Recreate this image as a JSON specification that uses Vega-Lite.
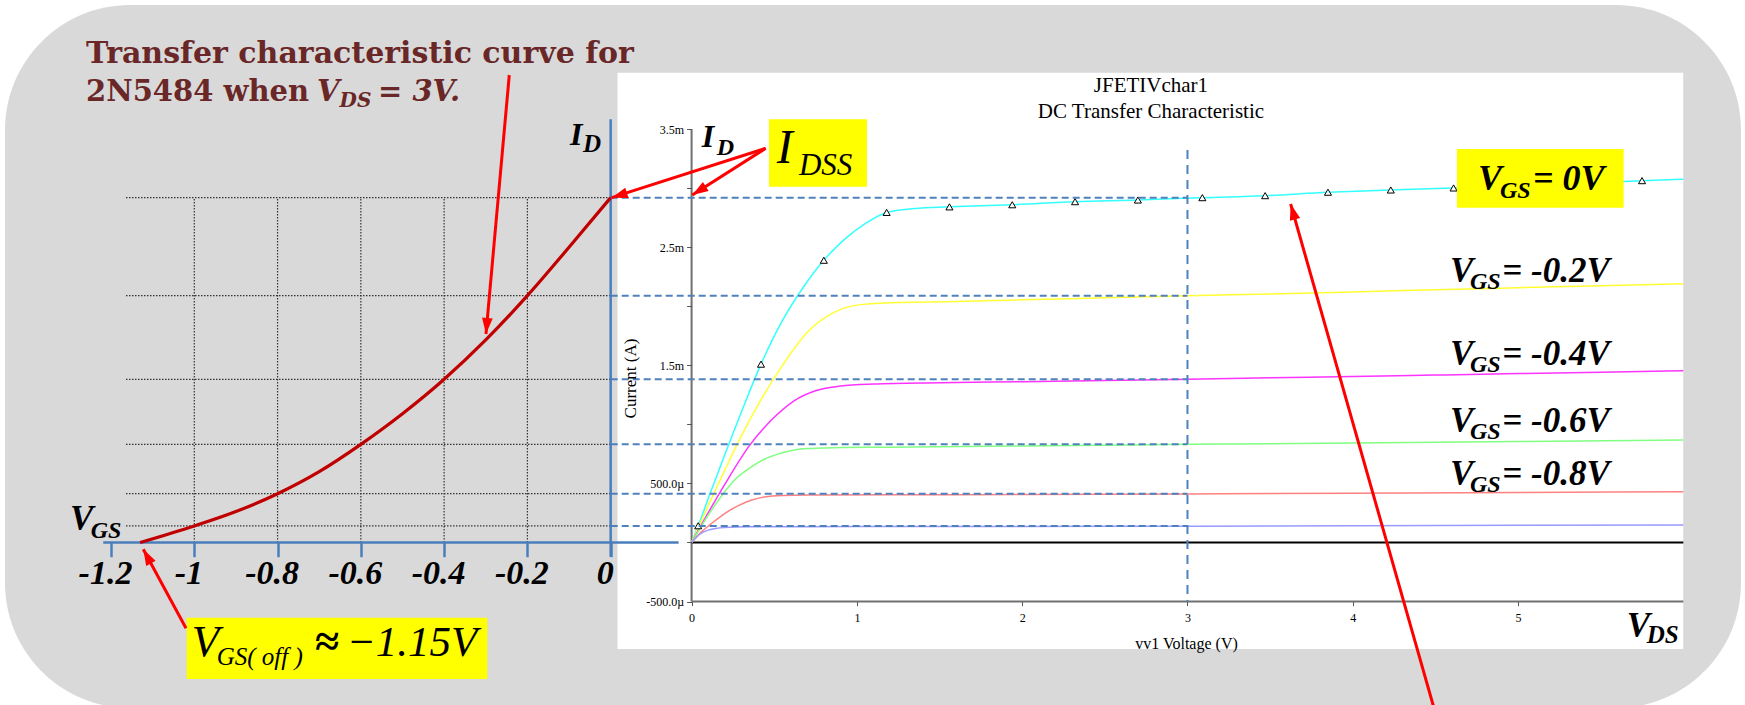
{
"$schema": "https://vega.github.io/schema/vega-lite/v6.json",
"width": 1745, "height": 705, "autosize": {"type": "none"}, "padding": 0,
"background": "#ffffff",
"config": {"view": {"stroke": null}, "font": "Liberation Serif, Times New Roman, Times, serif", "text": {"font": "Liberation Serif, Times New Roman, Times, serif", "fontStyle": "italic", "fontWeight": "bold", "align": "left", "baseline": "alphabetic", "color": "#000000"}},
"datasets": {
"one": [{"k": 1}],
"levels": [{"vgs": 0, "id": 2.92}, {"vgs": -0.2, "id": 2.09}, {"vgs": -0.4, "id": 1.382}, {"vgs": -0.6, "id": 0.831}, {"vgs": -0.8, "id": 0.413}, {"vgs": -1.0, "id": 0.14}],
"transfer": [{"vgs": -1.13, "id": 0}, {"vgs": -1.0, "id": 0.14}, {"vgs": -0.9, "id": 0.262}, {"vgs": -0.8, "id": 0.413}, {"vgs": -0.7, "id": 0.6}, {"vgs": -0.6, "id": 0.831}, {"vgs": -0.5, "id": 1.09}, {"vgs": -0.4, "id": 1.382}, {"vgs": -0.3, "id": 1.715}, {"vgs": -0.2, "id": 2.09}, {"vgs": -0.1, "id": 2.5}, {"vgs": 0, "id": 2.92}],
"markers": [{"vds": 0.04, "id": 0.142}, {"vds": 0.42, "id": 1.51}, {"vds": 0.8, "id": 2.39}, {"vds": 1.18, "id": 2.795}, {"vds": 1.56, "id": 2.842}, {"vds": 1.94, "id": 2.86}, {"vds": 2.32, "id": 2.886}, {"vds": 2.7, "id": 2.9}, {"vds": 3.09, "id": 2.92}, {"vds": 3.47, "id": 2.937}, {"vds": 3.85, "id": 2.966}, {"vds": 4.23, "id": 2.985}, {"vds": 4.61, "id": 3.002}, {"vds": 4.99, "id": 3.022}, {"vds": 5.37, "id": 3.042}, {"vds": 5.75, "id": 3.064}],
"curves": [
{"vgs": 0, "vds": 0, "id": 0}, {"vgs": 0, "vds": 0.04, "id": 0.142}, {"vgs": 0, "vds": 0.1, "id": 0.37}, {"vgs": 0, "vds": 0.2, "id": 0.74}, {"vgs": 0, "vds": 0.3, "id": 1.1}, {"vgs": 0, "vds": 0.42, "id": 1.51}, {"vgs": 0, "vds": 0.55, "id": 1.88}, {"vgs": 0, "vds": 0.68, "id": 2.17}, {"vgs": 0, "vds": 0.8, "id": 2.39}, {"vgs": 0, "vds": 0.92, "id": 2.56}, {"vgs": 0, "vds": 1.05, "id": 2.7}, {"vgs": 0, "vds": 1.18, "id": 2.795}, {"vgs": 0, "vds": 1.35, "id": 2.828}, {"vgs": 0, "vds": 1.56, "id": 2.842}, {"vgs": 0, "vds": 1.94, "id": 2.86}, {"vgs": 0, "vds": 2.32, "id": 2.886}, {"vgs": 0, "vds": 2.7, "id": 2.9}, {"vgs": 0, "vds": 3.09, "id": 2.92}, {"vgs": 0, "vds": 3.47, "id": 2.937}, {"vgs": 0, "vds": 3.85, "id": 2.966}, {"vgs": 0, "vds": 4.23, "id": 2.985}, {"vgs": 0, "vds": 4.61, "id": 3.002}, {"vgs": 0, "vds": 4.99, "id": 3.022}, {"vgs": 0, "vds": 5.37, "id": 3.042}, {"vgs": 0, "vds": 5.75, "id": 3.064}, {"vgs": 0, "vds": 6.0, "id": 3.075},
{"vgs": -0.2, "vds": 0, "id": 0}, {"vgs": -0.2, "vds": 0.1, "id": 0.31}, {"vgs": -0.2, "vds": 0.2, "id": 0.61}, {"vgs": -0.2, "vds": 0.3, "id": 0.9}, {"vgs": -0.2, "vds": 0.42, "id": 1.21}, {"vgs": -0.2, "vds": 0.55, "id": 1.5}, {"vgs": -0.2, "vds": 0.7, "id": 1.78}, {"vgs": -0.2, "vds": 0.85, "id": 1.94}, {"vgs": -0.2, "vds": 1.0, "id": 2.01}, {"vgs": -0.2, "vds": 1.2, "id": 2.03}, {"vgs": -0.2, "vds": 1.6, "id": 2.04}, {"vgs": -0.2, "vds": 2.0, "id": 2.055}, {"vgs": -0.2, "vds": 2.5, "id": 2.072}, {"vgs": -0.2, "vds": 3.0, "id": 2.09}, {"vgs": -0.2, "vds": 3.5, "id": 2.105}, {"vgs": -0.2, "vds": 4.0, "id": 2.122}, {"vgs": -0.2, "vds": 4.5, "id": 2.14}, {"vgs": -0.2, "vds": 5.0, "id": 2.157}, {"vgs": -0.2, "vds": 5.5, "id": 2.175}, {"vgs": -0.2, "vds": 6.0, "id": 2.191},
{"vgs": -0.4, "vds": 0, "id": 0}, {"vgs": -0.4, "vds": 0.1, "id": 0.25}, {"vgs": -0.4, "vds": 0.2, "id": 0.49}, {"vgs": -0.4, "vds": 0.35, "id": 0.82}, {"vgs": -0.4, "vds": 0.5, "id": 1.06}, {"vgs": -0.4, "vds": 0.62, "id": 1.2}, {"vgs": -0.4, "vds": 0.75, "id": 1.285}, {"vgs": -0.4, "vds": 0.9, "id": 1.325}, {"vgs": -0.4, "vds": 1.1, "id": 1.342}, {"vgs": -0.4, "vds": 1.5, "id": 1.353}, {"vgs": -0.4, "vds": 2.0, "id": 1.362}, {"vgs": -0.4, "vds": 2.5, "id": 1.372}, {"vgs": -0.4, "vds": 3.0, "id": 1.382}, {"vgs": -0.4, "vds": 3.5, "id": 1.394}, {"vgs": -0.4, "vds": 4.0, "id": 1.406}, {"vgs": -0.4, "vds": 4.5, "id": 1.418}, {"vgs": -0.4, "vds": 5.0, "id": 1.43}, {"vgs": -0.4, "vds": 5.5, "id": 1.442}, {"vgs": -0.4, "vds": 6.0, "id": 1.455},
{"vgs": -0.6, "vds": 0, "id": 0}, {"vgs": -0.6, "vds": 0.1, "id": 0.23}, {"vgs": -0.6, "vds": 0.2, "id": 0.43}, {"vgs": -0.6, "vds": 0.26, "id": 0.53}, {"vgs": -0.6, "vds": 0.35, "id": 0.63}, {"vgs": -0.6, "vds": 0.44, "id": 0.705}, {"vgs": -0.6, "vds": 0.55, "id": 0.76}, {"vgs": -0.6, "vds": 0.65, "id": 0.79}, {"vgs": -0.6, "vds": 0.8, "id": 0.801}, {"vgs": -0.6, "vds": 1.2, "id": 0.807}, {"vgs": -0.6, "vds": 2.0, "id": 0.818}, {"vgs": -0.6, "vds": 3.0, "id": 0.831}, {"vgs": -0.6, "vds": 4.0, "id": 0.843}, {"vgs": -0.6, "vds": 5.0, "id": 0.855}, {"vgs": -0.6, "vds": 6.0, "id": 0.868},
{"vgs": -0.8, "vds": 0, "id": 0}, {"vgs": -0.8, "vds": 0.06, "id": 0.09}, {"vgs": -0.8, "vds": 0.12, "id": 0.16}, {"vgs": -0.8, "vds": 0.2, "id": 0.245}, {"vgs": -0.8, "vds": 0.28, "id": 0.31}, {"vgs": -0.8, "vds": 0.36, "id": 0.357}, {"vgs": -0.8, "vds": 0.44, "id": 0.385}, {"vgs": -0.8, "vds": 0.55, "id": 0.398}, {"vgs": -0.8, "vds": 0.7, "id": 0.402}, {"vgs": -0.8, "vds": 1.5, "id": 0.405}, {"vgs": -0.8, "vds": 2.0, "id": 0.407}, {"vgs": -0.8, "vds": 3.0, "id": 0.411}, {"vgs": -0.8, "vds": 4.0, "id": 0.417}, {"vgs": -0.8, "vds": 5.0, "id": 0.423}, {"vgs": -0.8, "vds": 6.0, "id": 0.43},
{"vgs": -1.0, "vds": 0, "id": 0}, {"vgs": -1.0, "vds": 0.05, "id": 0.07}, {"vgs": -1.0, "vds": 0.1, "id": 0.105}, {"vgs": -1.0, "vds": 0.2, "id": 0.127}, {"vgs": -1.0, "vds": 0.35, "id": 0.133}, {"vgs": -1.0, "vds": 1.0, "id": 0.135}, {"vgs": -1.0, "vds": 2.0, "id": 0.136}, {"vgs": -1.0, "vds": 3.0, "id": 0.138}, {"vgs": -1.0, "vds": 4.0, "id": 0.141}, {"vgs": -1.0, "vds": 5.0, "id": 0.145}, {"vgs": -1.0, "vds": 6.0, "id": 0.148}
]
},
"resolve": {"scale": {"x": "independent", "y": "independent"}, "axis": {"x": "independent", "y": "independent"}},
"layer": [
{"data": {"name": "one"}, "mark": {"type": "rect", "fill": "#d9d9d9", "cornerRadius": 125},
 "encoding": {"x": {"datum": -4.1537, "type": "quantitative", "scale": {"domain": [-4.184, 6.373], "nice": false, "zero": false}, "axis": null}, "x2": {"datum": 6.3484},
  "y": {"datum": 4.5512, "type": "quantitative", "scale": {"domain": [-1.376, 4.5936], "nice": false, "zero": false}, "axis": null}, "y2": {"datum": -1.4014}}},
{"data": {"name": "one"}, "mark": {"type": "rect", "fill": "#ffffff"},
 "encoding": {"x": {"datum": -0.4483, "type": "quantitative", "scale": {"domain": [-4.184, 6.373], "nice": false, "zero": false}, "axis": null}, "x2": {"datum": 5.9994},
  "y": {"datum": 3.978, "type": "quantitative", "scale": {"domain": [-1.376, 4.5936], "nice": false, "zero": false}, "axis": null}, "y2": {"datum": -0.9018}}},
{"data": {"name": "levels"}, "mark": {"type": "rule", "color": "#333333", "strokeWidth": 1.2, "strokeDash": [1.5, 1.5]},
 "encoding": {"x": {"datum": -1.164, "type": "quantitative", "scale": {"domain": [-1.4666, 2.7242], "nice": false, "zero": false}, "axis": null}, "x2": {"datum": 0},
  "y": {"field": "id", "type": "quantitative", "scale": {"domain": [-1.376, 4.5936], "nice": false, "zero": false}, "axis": null}}},
{"data": {"name": "levels"}, "transform": [{"filter": "datum.vgs < 0"}], "mark": {"type": "rule", "color": "#333333", "strokeWidth": 1.2, "strokeDash": [1.5, 1.5]},
 "encoding": {"x": {"field": "vgs", "type": "quantitative", "scale": {"domain": [-1.4666, 2.7242], "nice": false, "zero": false}, "axis": null},
  "y": {"datum": 0, "type": "quantitative", "scale": {"domain": [-1.376, 4.5936], "nice": false, "zero": false}, "axis": null}, "y2": {"datum": 2.92}}},
{"data": {"name": "one"}, "mark": {"type": "rule", "color": "#707070", "strokeWidth": 2},
 "encoding": {"x": {"datum": 0, "type": "quantitative", "scale": {"domain": [-4.184, 6.373], "nice": false, "zero": false},
   "axis": {"orient": "bottom", "offset": -103.4, "zindex": 1, "values": [0, 1, 2, 3, 4, 5], "format": "d", "domain": false, "grid": false, "tickSize": 4, "tickColor": "#555555", "tickWidth": 1, "labelFont": "Liberation Serif, Times New Roman, Times, serif", "labelFontSize": 12, "labelColor": "#000000", "labelPadding": 7, "labelFlush": false, "labelOverlap": false,
     "title": "vv1 Voltage (V)", "titleFont": "Liberation Serif, Times New Roman, Times, serif", "titleFontSize": 16, "titleFontWeight": "normal", "titleColor": "#000000", "titleX": 1186, "titleY": 41.4, "titleBaseline": "middle", "titleAlign": "center"}},
  "x2": {"datum": 6},
  "y": {"datum": -0.5, "type": "quantitative", "scale": {"domain": [-1.376, 4.5936], "nice": false, "zero": false}, "axis": null}}},
{"data": {"name": "one"}, "mark": {"type": "rule", "color": "#707070", "strokeWidth": 2},
 "encoding": {"x": {"datum": 0, "type": "quantitative", "scale": {"domain": [-4.184, 6.373], "nice": false, "zero": false}, "axis": null},
  "y": {"datum": -0.5, "type": "quantitative", "scale": {"domain": [-1.376, 4.5936], "nice": false, "zero": false},
   "axis": {"orient": "left", "offset": -691.6, "zindex": 1, "values": [-0.5, 0, 0.5, 1, 1.5, 2, 2.5, 3, 3.5], "labelExpr": "datum.value == 3.5 ? '3.5m' : datum.value == 2.5 ? '2.5m' : datum.value == 1.5 ? '1.5m' : datum.value == 0.5 ? '500.0µ' : datum.value == -0.5 ? '-500.0µ' : ''", "domain": false, "grid": false, "tickSize": 5, "tickColor": "#555555", "tickWidth": 1, "labelFont": "Liberation Serif, Times New Roman, Times, serif", "labelFontSize": 12, "labelColor": "#000000", "labelPadding": 3, "labelFlush": false, "labelOverlap": false,
     "title": "Current (A)", "titleFont": "Liberation Serif, Times New Roman, Times, serif", "titleFontSize": 17, "titleFontWeight": "normal", "titleColor": "#000000", "titleX": -61.6, "titleY": 378, "titleAngle": -90, "titleBaseline": "middle", "titleAlign": "center"}},
  "y2": {"datum": 3.5}}},
{"data": {"name": "one"}, "mark": {"type": "rule", "color": "#000000", "strokeWidth": 2},
 "encoding": {"x": {"datum": 0, "type": "quantitative", "scale": {"domain": [-4.184, 6.373], "nice": false, "zero": false}, "axis": null}, "x2": {"datum": 6},
  "y": {"datum": 0, "type": "quantitative", "scale": {"domain": [-1.376, 4.5936], "nice": false, "zero": false}, "axis": null}}},
{"data": {"name": "curves"}, "mark": {"type": "line", "strokeWidth": 1.5, "interpolate": "monotone"},
 "encoding": {"x": {"field": "vds", "type": "quantitative", "scale": {"domain": [-4.184, 6.373], "nice": false, "zero": false}, "axis": null},
  "y": {"field": "id", "type": "quantitative", "scale": {"domain": [-1.376, 4.5936], "nice": false, "zero": false}, "axis": null},
  "color": {"field": "vgs", "type": "nominal", "scale": {"domain": [0, -0.2, -0.4, -0.6, -0.8, -1], "range": ["#33ffff", "#ffff33", "#ff33ff", "#80ff80", "#ff8080", "#9999ff"]}, "legend": null}}},
{"data": {"name": "markers"}, "mark": {"type": "point", "shape": "triangle-up", "filled": true, "fill": "#ffffff", "stroke": "#000000", "strokeWidth": 1, "size": 50, "opacity": 1},
 "encoding": {"x": {"field": "vds", "type": "quantitative", "scale": {"domain": [-4.184, 6.373], "nice": false, "zero": false}, "axis": null},
  "y": {"field": "id", "type": "quantitative", "scale": {"domain": [-1.376, 4.5936], "nice": false, "zero": false}, "axis": null}}},
{"data": {"name": "levels"}, "mark": {"type": "rule", "color": "#4f81bd", "strokeWidth": 2, "strokeDash": [7, 4]},
 "encoding": {"x": {"datum": -0.4894, "type": "quantitative", "scale": {"domain": [-4.184, 6.373], "nice": false, "zero": false}, "axis": null}, "x2": {"datum": 3},
  "y": {"field": "id", "type": "quantitative", "scale": {"domain": [-1.376, 4.5936], "nice": false, "zero": false}, "axis": null}}},
{"data": {"name": "one"}, "mark": {"type": "rule", "color": "#4f81bd", "strokeWidth": 2, "strokeDash": [9, 6]},
 "encoding": {"x": {"datum": 3, "type": "quantitative", "scale": {"domain": [-4.184, 6.373], "nice": false, "zero": false}, "axis": null},
  "y": {"datum": 3.3235, "type": "quantitative", "scale": {"domain": [-1.376, 4.5936], "nice": false, "zero": false}, "axis": null}, "y2": {"datum": -0.5}}},
{"data": {"name": "one"}, "mark": {"type": "rule", "color": "#4a7ebb", "strokeWidth": 2.5},
 "encoding": {"x": {"datum": -1.2186, "type": "quantitative", "scale": {"domain": [-1.4666, 2.7242], "nice": false, "zero": false},
   "axis": {"orient": "bottom", "offset": -163.3, "zindex": 1, "values": [-1.2, -1, -0.8, -0.6, -0.4, -0.2, 0], "format": "~g", "labelExpr": "replace(datum.label, '−', '-')", "domain": false, "grid": false, "tickSize": 15, "tickColor": "#4a7ebb", "tickWidth": 2.5, "labelFont": "Liberation Serif, Times New Roman, Times, serif", "labelFontSize": 34, "labelFontWeight": "bold", "labelFontStyle": "italic", "labelColor": "#000000", "labelBaseline": "alphabetic", "labelPadding": 26.6, "labelOffset": -6, "labelFlush": false, "labelOverlap": false, "title": null}},
  "x2": {"datum": 0.1631},
  "y": {"datum": 0, "type": "quantitative", "scale": {"domain": [-1.376, 4.5936], "nice": false, "zero": false}, "axis": null}}},
{"data": {"name": "one"}, "mark": {"type": "rule", "color": "#4a7ebb", "strokeWidth": 2.5},
 "encoding": {"x": {"datum": 0, "type": "quantitative", "scale": {"domain": [-1.4666, 2.7242], "nice": false, "zero": false}, "axis": null},
  "y": {"datum": -0.1202, "type": "quantitative", "scale": {"domain": [-1.376, 4.5936], "nice": false, "zero": false}, "axis": null}, "y2": {"datum": 3.5834}}},
{"data": {"name": "transfer"}, "mark": {"type": "line", "color": "#c00000", "strokeWidth": 3.2, "interpolate": "monotone"},
 "encoding": {"x": {"field": "vgs", "type": "quantitative", "scale": {"domain": [-1.4666, 2.7242], "nice": false, "zero": false}, "axis": null},
  "y": {"field": "id", "type": "quantitative", "scale": {"domain": [-1.376, 4.5936], "nice": false, "zero": false}, "axis": null}}},
{"data": {"name": "one"}, "mark": {"type": "rect", "fill": "#ffff00"},
 "encoding": {"x": {"datum": 0.4682, "type": "quantitative", "scale": {"domain": [-4.184, 6.373], "nice": false, "zero": false}, "axis": null}, "x2": {"datum": 1.0611},
  "y": {"datum": 3.5834, "type": "quantitative", "scale": {"domain": [-1.376, 4.5936], "nice": false, "zero": false}, "axis": null}, "y2": {"datum": 3.0127}}},
{"data": {"name": "one"}, "mark": {"type": "rect", "fill": "#ffff00"},
 "encoding": {"x": {"datum": 4.6304, "type": "quantitative", "scale": {"domain": [-4.184, 6.373], "nice": false, "zero": false}, "axis": null}, "x2": {"datum": 5.6389},
  "y": {"datum": 3.3319, "type": "quantitative", "scale": {"domain": [-1.376, 4.5936], "nice": false, "zero": false}, "axis": null}, "y2": {"datum": 2.8349}}},
{"data": {"name": "one"}, "mark": {"type": "rect", "fill": "#ffff00"},
 "encoding": {"x": {"datum": -1.0183, "type": "quantitative", "scale": {"domain": [-1.4666, 2.7242], "nice": false, "zero": false}, "axis": null}, "x2": {"datum": -0.2963},
  "y": {"datum": -0.6367, "type": "quantitative", "scale": {"domain": [-1.376, 4.5936], "nice": false, "zero": false}, "axis": null}, "y2": {"datum": -1.1558}}},
{"data": {"values": [{"t": "Transfer characteristic curve for"}]}, "mark": {"type": "text", "font": "DejaVu Serif", "fontStyle": "normal", "fontWeight": "bold", "fontSize": 30, "color": "#6a2727"},
 "encoding": {"text": {"field": "t"}, "x": {"datum": -1.2601, "type": "quantitative", "scale": {"domain": [-1.4666, 2.7242], "nice": false, "zero": false}, "axis": null}, "y": {"datum": 4.0627, "type": "quantitative", "scale": {"domain": [-1.376, 4.5936], "nice": false, "zero": false}, "axis": null}}},
{"data": {"values": [{"t": "2N5484 when"}]}, "mark": {"type": "text", "font": "DejaVu Serif", "fontStyle": "normal", "fontWeight": "bold", "fontSize": 29, "color": "#6a2727"},
 "encoding": {"text": {"field": "t"}, "x": {"datum": -1.2601, "type": "quantitative", "scale": {"domain": [-1.4666, 2.7242], "nice": false, "zero": false}, "axis": null}, "y": {"datum": 3.7409, "type": "quantitative", "scale": {"domain": [-1.376, 4.5936], "nice": false, "zero": false}, "axis": null}}},
{"data": {"values": [{"t": "V"}]}, "mark": {"type": "text", "font": "DejaVu Serif", "fontStyle": "italic", "fontWeight": "bold", "fontSize": 29, "color": "#6a2727"},
 "encoding": {"text": {"field": "t"}, "x": {"datum": -0.705, "type": "quantitative", "scale": {"domain": [-1.4666, 2.7242], "nice": false, "zero": false}, "axis": null}, "y": {"datum": 3.7409, "type": "quantitative", "scale": {"domain": [-1.376, 4.5936], "nice": false, "zero": false}, "axis": null}}},
{"data": {"values": [{"t": "DS"}]}, "mark": {"type": "text", "font": "DejaVu Serif", "fontStyle": "italic", "fontWeight": "bold", "fontSize": 20, "color": "#6a2727"},
 "encoding": {"text": {"field": "t"}, "x": {"datum": -0.651, "type": "quantitative", "scale": {"domain": [-1.4666, 2.7242], "nice": false, "zero": false}, "axis": null}, "y": {"datum": 3.685, "type": "quantitative", "scale": {"domain": [-1.376, 4.5936], "nice": false, "zero": false}, "axis": null}}},
{"data": {"values": [{"t": "= 3V."}]}, "mark": {"type": "text", "font": "DejaVu Serif", "fontStyle": "italic", "fontWeight": "bold", "fontSize": 29, "color": "#6a2727"},
 "encoding": {"text": {"field": "t"}, "x": {"datum": -0.5588, "type": "quantitative", "scale": {"domain": [-1.4666, 2.7242], "nice": false, "zero": false}, "axis": null}, "y": {"datum": 3.7409, "type": "quantitative", "scale": {"domain": [-1.376, 4.5936], "nice": false, "zero": false}, "axis": null}}},
{"data": {"values": [{"t": "I"}]}, "mark": {"type": "text", "font": "Liberation Serif, Times New Roman, Times, serif", "fontSize": 32},
 "encoding": {"text": {"field": "t"}, "x": {"datum": -0.0977, "type": "quantitative", "scale": {"domain": [-1.4666, 2.7242], "nice": false, "zero": false}, "axis": null}, "y": {"datum": 3.3658, "type": "quantitative", "scale": {"domain": [-1.376, 4.5936], "nice": false, "zero": false}, "axis": null}}},
{"data": {"values": [{"t": "D"}]}, "mark": {"type": "text", "font": "Liberation Serif, Times New Roman, Times, serif", "fontSize": 25},
 "encoding": {"text": {"field": "t"}, "x": {"datum": -0.0665, "type": "quantitative", "scale": {"domain": [-1.4666, 2.7242], "nice": false, "zero": false}, "axis": null}, "y": {"datum": 3.3091, "type": "quantitative", "scale": {"domain": [-1.376, 4.5936], "nice": false, "zero": false}, "axis": null}}},
{"data": {"values": [{"t": "V"}]}, "mark": {"type": "text", "font": "Liberation Serif, Times New Roman, Times, serif", "fontSize": 35},
 "encoding": {"text": {"field": "t"}, "x": {"datum": -1.2985, "type": "quantitative", "scale": {"domain": [-1.4666, 2.7242], "nice": false, "zero": false}, "axis": null}, "y": {"datum": 0.1058, "type": "quantitative", "scale": {"domain": [-1.376, 4.5936], "nice": false, "zero": false}, "axis": null}}},
{"data": {"values": [{"t": "GS"}]}, "mark": {"type": "text", "font": "Liberation Serif, Times New Roman, Times, serif", "fontSize": 24},
 "encoding": {"text": {"field": "t"}, "x": {"datum": -1.2488, "type": "quantitative", "scale": {"domain": [-1.4666, 2.7242], "nice": false, "zero": false}, "axis": null}, "y": {"datum": 0.0356, "type": "quantitative", "scale": {"domain": [-1.376, 4.5936], "nice": false, "zero": false}, "axis": null}}},
{"data": {"values": [{"t": "V"}]}, "mark": {"type": "text", "font": "Liberation Serif, Times New Roman, Times, serif", "fontSize": 45, "fontWeight": "normal"},
 "encoding": {"text": {"field": "t"}, "x": {"datum": -1.0062, "type": "quantitative", "scale": {"domain": [-1.4666, 2.7242], "nice": false, "zero": false}, "axis": null}, "y": {"datum": -0.965, "type": "quantitative", "scale": {"domain": [-1.376, 4.5936], "nice": false, "zero": false}, "axis": null}}},
{"data": {"values": [{"t": "GS( off )"}]}, "mark": {"type": "text", "font": "Liberation Serif, Times New Roman, Times, serif", "fontSize": 25, "fontWeight": "normal"},
 "encoding": {"text": {"field": "t"}, "x": {"datum": -0.9462, "type": "quantitative", "scale": {"domain": [-1.4666, 2.7242], "nice": false, "zero": false}, "axis": null}, "y": {"datum": -1.0373, "type": "quantitative", "scale": {"domain": [-1.376, 4.5936], "nice": false, "zero": false}, "axis": null}}},
{"data": {"values": [{"t": "≈"}]}, "mark": {"type": "text", "font": "Liberation Serif, Times New Roman, Times, serif", "fontSize": 44, "fontStyle": "normal"},
 "encoding": {"text": {"field": "t"}, "x": {"datum": -0.7101, "type": "quantitative", "scale": {"domain": [-1.4666, 2.7242], "nice": false, "zero": false}, "axis": null}, "y": {"datum": -0.965, "type": "quantitative", "scale": {"domain": [-1.376, 4.5936], "nice": false, "zero": false}, "axis": null}}},
{"data": {"values": [{"t": "−1.15V"}]}, "mark": {"type": "text", "font": "Liberation Serif, Times New Roman, Times, serif", "fontSize": 43, "fontWeight": "normal"},
 "encoding": {"text": {"field": "t"}, "x": {"datum": -0.634, "type": "quantitative", "scale": {"domain": [-1.4666, 2.7242], "nice": false, "zero": false}, "axis": null}, "y": {"datum": -0.965, "type": "quantitative", "scale": {"domain": [-1.376, 4.5936], "nice": false, "zero": false}, "axis": null}}},
{"data": {"values": [{"t": "JFETIVchar1"}]}, "mark": {"type": "text", "font": "Liberation Serif, Times New Roman, Times, serif", "fontSize": 21, "fontWeight": "normal", "fontStyle": "normal", "align": "center"},
 "encoding": {"text": {"field": "t"}, "x": {"datum": 2.7792, "type": "quantitative", "scale": {"domain": [-4.184, 6.373], "nice": false, "zero": false}, "axis": null}, "y": {"datum": 3.8146, "type": "quantitative", "scale": {"domain": [-1.376, 4.5936], "nice": false, "zero": false}, "axis": null}}},
{"data": {"values": [{"t": "DC Transfer Characteristic"}]}, "mark": {"type": "text", "font": "Liberation Serif, Times New Roman, Times, serif", "fontSize": 21, "fontWeight": "normal", "fontStyle": "normal", "align": "center"},
 "encoding": {"text": {"field": "t"}, "x": {"datum": 2.7792, "type": "quantitative", "scale": {"domain": [-4.184, 6.373], "nice": false, "zero": false}, "axis": null}, "y": {"datum": 3.5944, "type": "quantitative", "scale": {"domain": [-1.376, 4.5936], "nice": false, "zero": false}, "axis": null}}},
{"data": {"values": [{"t": "I"}]}, "mark": {"type": "text", "font": "Liberation Serif, Times New Roman, Times, serif", "fontSize": 32},
 "encoding": {"text": {"field": "t"}, "x": {"datum": 0.0611, "type": "quantitative", "scale": {"domain": [-4.184, 6.373], "nice": false, "zero": false}, "axis": null}, "y": {"datum": 3.3514, "type": "quantitative", "scale": {"domain": [-1.376, 4.5936], "nice": false, "zero": false}, "axis": null}}},
{"data": {"values": [{"t": "D"}]}, "mark": {"type": "text", "font": "Liberation Serif, Times New Roman, Times, serif", "fontSize": 24},
 "encoding": {"text": {"field": "t"}, "x": {"datum": 0.1518, "type": "quantitative", "scale": {"domain": [-4.184, 6.373], "nice": false, "zero": false}, "axis": null}, "y": {"datum": 3.2811, "type": "quantitative", "scale": {"domain": [-1.376, 4.5936], "nice": false, "zero": false}, "axis": null}}},
{"data": {"values": [{"t": "I"}]}, "mark": {"type": "text", "font": "Liberation Serif, Times New Roman, Times, serif", "fontSize": 48, "fontWeight": "normal"},
 "encoding": {"text": {"field": "t"}, "x": {"datum": 0.5148, "type": "quantitative", "scale": {"domain": [-4.184, 6.373], "nice": false, "zero": false}, "axis": null}, "y": {"datum": 3.2108, "type": "quantitative", "scale": {"domain": [-1.376, 4.5936], "nice": false, "zero": false}, "axis": null}}},
{"data": {"values": [{"t": "DSS"}]}, "mark": {"type": "text", "font": "Liberation Serif, Times New Roman, Times, serif", "fontSize": 31, "fontWeight": "normal"},
 "encoding": {"text": {"field": "t"}, "x": {"datum": 0.6497, "type": "quantitative", "scale": {"domain": [-4.184, 6.373], "nice": false, "zero": false}, "axis": null}, "y": {"datum": 3.1118, "type": "quantitative", "scale": {"domain": [-1.376, 4.5936], "nice": false, "zero": false}, "axis": null}}},
{"data": {"values": [{"t": "V"}]}, "mark": {"type": "text", "font": "Liberation Serif, Times New Roman, Times, serif", "fontSize": 36},
 "encoding": {"text": {"field": "t"}, "x": {"datum": 4.7574, "type": "quantitative", "scale": {"domain": [-4.184, 6.373], "nice": false, "zero": false}, "axis": null}, "y": {"datum": 2.9848, "type": "quantitative", "scale": {"domain": [-1.376, 4.5936], "nice": false, "zero": false}, "axis": null}}},
{"data": {"values": [{"t": "GS"}]}, "mark": {"type": "text", "font": "Liberation Serif, Times New Roman, Times, serif", "fontSize": 24},
 "encoding": {"text": {"field": "t"}, "x": {"datum": 4.8905, "type": "quantitative", "scale": {"domain": [-4.184, 6.373], "nice": false, "zero": false}, "axis": null}, "y": {"datum": 2.917, "type": "quantitative", "scale": {"domain": [-1.376, 4.5936], "nice": false, "zero": false}, "axis": null}}},
{"data": {"values": [{"t": "= 0V"}]}, "mark": {"type": "text", "font": "Liberation Serif, Times New Roman, Times, serif", "fontSize": 36},
 "encoding": {"text": {"field": "t"}, "x": {"datum": 5.0901, "type": "quantitative", "scale": {"domain": [-4.184, 6.373], "nice": false, "zero": false}, "axis": null}, "y": {"datum": 2.9848, "type": "quantitative", "scale": {"domain": [-1.376, 4.5936], "nice": false, "zero": false}, "axis": null}}},
{"data": {"values": [{"t": "V"}]}, "mark": {"type": "text", "font": "Liberation Serif, Times New Roman, Times, serif", "fontSize": 35},
 "encoding": {"text": {"field": "t"}, "x": {"datum": 4.588, "type": "quantitative", "scale": {"domain": [-4.184, 6.373], "nice": false, "zero": false}, "axis": null}, "y": {"datum": 2.2083, "type": "quantitative", "scale": {"domain": [-1.376, 4.5936], "nice": false, "zero": false}, "axis": null}}},
{"data": {"values": [{"t": "GS"}]}, "mark": {"type": "text", "font": "Liberation Serif, Times New Roman, Times, serif", "fontSize": 24},
 "encoding": {"text": {"field": "t"}, "x": {"datum": 4.709, "type": "quantitative", "scale": {"domain": [-4.184, 6.373], "nice": false, "zero": false}, "axis": null}, "y": {"datum": 2.1439, "type": "quantitative", "scale": {"domain": [-1.376, 4.5936], "nice": false, "zero": false}, "axis": null}}},
{"data": {"values": [{"t": "= -0.2V"}]}, "mark": {"type": "text", "font": "Liberation Serif, Times New Roman, Times, serif", "fontSize": 35},
 "encoding": {"text": {"field": "t"}, "x": {"datum": 4.905, "type": "quantitative", "scale": {"domain": [-4.184, 6.373], "nice": false, "zero": false}, "axis": null}, "y": {"datum": 2.2083, "type": "quantitative", "scale": {"domain": [-1.376, 4.5936], "nice": false, "zero": false}, "axis": null}}},
{"data": {"values": [{"t": "V"}]}, "mark": {"type": "text", "font": "Liberation Serif, Times New Roman, Times, serif", "fontSize": 35},
 "encoding": {"text": {"field": "t"}, "x": {"datum": 4.588, "type": "quantitative", "scale": {"domain": [-4.184, 6.373], "nice": false, "zero": false}, "axis": null}, "y": {"datum": 1.503, "type": "quantitative", "scale": {"domain": [-1.376, 4.5936], "nice": false, "zero": false}, "axis": null}}},
{"data": {"values": [{"t": "GS"}]}, "mark": {"type": "text", "font": "Liberation Serif, Times New Roman, Times, serif", "fontSize": 24},
 "encoding": {"text": {"field": "t"}, "x": {"datum": 4.709, "type": "quantitative", "scale": {"domain": [-4.184, 6.373], "nice": false, "zero": false}, "axis": null}, "y": {"datum": 1.4462, "type": "quantitative", "scale": {"domain": [-1.376, 4.5936], "nice": false, "zero": false}, "axis": null}}},
{"data": {"values": [{"t": "= -0.4V"}]}, "mark": {"type": "text", "font": "Liberation Serif, Times New Roman, Times, serif", "fontSize": 35},
 "encoding": {"text": {"field": "t"}, "x": {"datum": 4.905, "type": "quantitative", "scale": {"domain": [-4.184, 6.373], "nice": false, "zero": false}, "axis": null}, "y": {"datum": 1.503, "type": "quantitative", "scale": {"domain": [-1.376, 4.5936], "nice": false, "zero": false}, "axis": null}}},
{"data": {"values": [{"t": "V"}]}, "mark": {"type": "text", "font": "Liberation Serif, Times New Roman, Times, serif", "fontSize": 35},
 "encoding": {"text": {"field": "t"}, "x": {"datum": 4.588, "type": "quantitative", "scale": {"domain": [-4.184, 6.373], "nice": false, "zero": false}, "axis": null}, "y": {"datum": 0.9382, "type": "quantitative", "scale": {"domain": [-1.376, 4.5936], "nice": false, "zero": false}, "axis": null}}},
{"data": {"values": [{"t": "GS"}]}, "mark": {"type": "text", "font": "Liberation Serif, Times New Roman, Times, serif", "fontSize": 24},
 "encoding": {"text": {"field": "t"}, "x": {"datum": 4.709, "type": "quantitative", "scale": {"domain": [-4.184, 6.373], "nice": false, "zero": false}, "axis": null}, "y": {"datum": 0.8738, "type": "quantitative", "scale": {"domain": [-1.376, 4.5936], "nice": false, "zero": false}, "axis": null}}},
{"data": {"values": [{"t": "= -0.6V"}]}, "mark": {"type": "text", "font": "Liberation Serif, Times New Roman, Times, serif", "fontSize": 35},
 "encoding": {"text": {"field": "t"}, "x": {"datum": 4.905, "type": "quantitative", "scale": {"domain": [-4.184, 6.373], "nice": false, "zero": false}, "axis": null}, "y": {"datum": 0.9382, "type": "quantitative", "scale": {"domain": [-1.376, 4.5936], "nice": false, "zero": false}, "axis": null}}},
{"data": {"values": [{"t": "V"}]}, "mark": {"type": "text", "font": "Liberation Serif, Times New Roman, Times, serif", "fontSize": 35},
 "encoding": {"text": {"field": "t"}, "x": {"datum": 4.588, "type": "quantitative", "scale": {"domain": [-4.184, 6.373], "nice": false, "zero": false}, "axis": null}, "y": {"datum": 0.4869, "type": "quantitative", "scale": {"domain": [-1.376, 4.5936], "nice": false, "zero": false}, "axis": null}}},
{"data": {"values": [{"t": "GS"}]}, "mark": {"type": "text", "font": "Liberation Serif, Times New Roman, Times, serif", "fontSize": 24},
 "encoding": {"text": {"field": "t"}, "x": {"datum": 4.709, "type": "quantitative", "scale": {"domain": [-4.184, 6.373], "nice": false, "zero": false}, "axis": null}, "y": {"datum": 0.4301, "type": "quantitative", "scale": {"domain": [-1.376, 4.5936], "nice": false, "zero": false}, "axis": null}}},
{"data": {"values": [{"t": "= -0.8V"}]}, "mark": {"type": "text", "font": "Liberation Serif, Times New Roman, Times, serif", "fontSize": 35},
 "encoding": {"text": {"field": "t"}, "x": {"datum": 4.905, "type": "quantitative", "scale": {"domain": [-4.184, 6.373], "nice": false, "zero": false}, "axis": null}, "y": {"datum": 0.4869, "type": "quantitative", "scale": {"domain": [-1.376, 4.5936], "nice": false, "zero": false}, "axis": null}}},
{"data": {"values": [{"t": "V"}]}, "mark": {"type": "text", "font": "Liberation Serif, Times New Roman, Times, serif", "fontSize": 35},
 "encoding": {"text": {"field": "t"}, "x": {"datum": 5.657, "type": "quantitative", "scale": {"domain": [-4.184, 6.373], "nice": false, "zero": false}, "axis": null}, "y": {"datum": -0.7976, "type": "quantitative", "scale": {"domain": [-1.376, 4.5936], "nice": false, "zero": false}, "axis": null}}},
{"data": {"values": [{"t": "DS"}]}, "mark": {"type": "text", "font": "Liberation Serif, Times New Roman, Times, serif", "fontSize": 25},
 "encoding": {"text": {"field": "t"}, "x": {"datum": 5.778, "type": "quantitative", "scale": {"domain": [-4.184, 6.373], "nice": false, "zero": false}, "axis": null}, "y": {"datum": -0.8535, "type": "quantitative", "scale": {"domain": [-1.376, 4.5936], "nice": false, "zero": false}, "axis": null}}},
{"data": {"name": "one"}, "mark": {"type": "rule", "color": "#ff0000", "strokeWidth": 3},
 "encoding": {"x": {"datum": 0.4483, "type": "quantitative", "scale": {"domain": [-4.184, 6.373], "nice": false, "zero": false}, "axis": null}, "x2": {"datum": -0.4834},
  "y": {"datum": 3.3379, "type": "quantitative", "scale": {"domain": [-1.376, 4.5936], "nice": false, "zero": false}, "axis": null}, "y2": {"datum": 2.9196}}},
{"data": {"name": "one"}, "mark": {"type": "point", "shape": "M0,0L-0.8,2.4L0.8,2.4Z", "filled": true, "color": "#ff0000", "size": 178, "angle": 252.2, "opacity": 1, "strokeWidth": 0},
 "encoding": {"x": {"datum": -0.4834, "type": "quantitative", "scale": {"domain": [-4.184, 6.373], "nice": false, "zero": false}, "axis": null},
  "y": {"datum": 2.9196, "type": "quantitative", "scale": {"domain": [-1.376, 4.5936], "nice": false, "zero": false}, "axis": null}}},
{"data": {"name": "one"}, "mark": {"type": "rule", "color": "#ff0000", "strokeWidth": 3},
 "encoding": {"x": {"datum": 0.4483, "type": "quantitative", "scale": {"domain": [-4.184, 6.373], "nice": false, "zero": false}, "axis": null}, "x2": {"datum": 0.0042},
  "y": {"datum": 3.3379, "type": "quantitative", "scale": {"domain": [-1.376, 4.5936], "nice": false, "zero": false}, "axis": null}, "y2": {"datum": 2.9424}}},
{"data": {"name": "one"}, "mark": {"type": "point", "shape": "M0,0L-0.8,2.4L0.8,2.4Z", "filled": true, "color": "#ff0000", "size": 178, "angle": 237.5, "opacity": 1, "strokeWidth": 0},
 "encoding": {"x": {"datum": 0.0042, "type": "quantitative", "scale": {"domain": [-4.184, 6.373], "nice": false, "zero": false}, "axis": null},
  "y": {"datum": 2.9424, "type": "quantitative", "scale": {"domain": [-1.376, 4.5936], "nice": false, "zero": false}, "axis": null}}},
{"data": {"name": "one"}, "mark": {"type": "rule", "color": "#ff0000", "strokeWidth": 3},
 "encoding": {"x": {"datum": 4.5033, "type": "quantitative", "scale": {"domain": [-4.184, 6.373], "nice": false, "zero": false}, "axis": null}, "x2": {"datum": 3.6243},
  "y": {"datum": -1.4606, "type": "quantitative", "scale": {"domain": [-1.376, 4.5936], "nice": false, "zero": false}, "axis": null}, "y2": {"datum": 2.8662}}},
{"data": {"name": "one"}, "mark": {"type": "point", "shape": "M0,0L-0.8,2.4L0.8,2.4Z", "filled": true, "color": "#ff0000", "size": 178, "angle": 344.1, "opacity": 1, "strokeWidth": 0},
 "encoding": {"x": {"datum": 3.6243, "type": "quantitative", "scale": {"domain": [-4.184, 6.373], "nice": false, "zero": false}, "axis": null},
  "y": {"datum": 2.8662, "type": "quantitative", "scale": {"domain": [-1.376, 4.5936], "nice": false, "zero": false}, "axis": null}}},
{"data": {"name": "one"}, "mark": {"type": "rule", "color": "#ff0000", "strokeWidth": 3},
 "encoding": {"x": {"datum": -0.2435, "type": "quantitative", "scale": {"domain": [-1.4666, 2.7242], "nice": false, "zero": false}, "axis": null}, "x2": {"datum": -0.2995},
  "y": {"datum": 3.9585, "type": "quantitative", "scale": {"domain": [-1.376, 4.5936], "nice": false, "zero": false}, "axis": null}, "y2": {"datum": 1.7655}}},
{"data": {"name": "one"}, "mark": {"type": "point", "shape": "M0,0L-0.8,2.4L0.8,2.4Z", "filled": true, "color": "#ff0000", "size": 178, "angle": 185.1, "opacity": 1, "strokeWidth": 0},
 "encoding": {"x": {"datum": -0.2995, "type": "quantitative", "scale": {"domain": [-1.4666, 2.7242], "nice": false, "zero": false}, "axis": null},
  "y": {"datum": 1.7655, "type": "quantitative", "scale": {"domain": [-1.376, 4.5936], "nice": false, "zero": false}, "axis": null}}},
{"data": {"name": "one"}, "mark": {"type": "rule", "color": "#ff0000", "strokeWidth": 3},
 "encoding": {"x": {"datum": -1.0199, "type": "quantitative", "scale": {"domain": [-1.4666, 2.7242], "nice": false, "zero": false}, "axis": null}, "x2": {"datum": -1.1225},
  "y": {"datum": -0.7265, "type": "quantitative", "scale": {"domain": [-1.376, 4.5936], "nice": false, "zero": false}, "axis": null}, "y2": {"datum": -0.0576}}},
{"data": {"name": "one"}, "mark": {"type": "point", "shape": "M0,0L-0.8,2.4L0.8,2.4Z", "filled": true, "color": "#ff0000", "size": 178, "angle": 331.6, "opacity": 1, "strokeWidth": 0},
 "encoding": {"x": {"datum": -1.1225, "type": "quantitative", "scale": {"domain": [-1.4666, 2.7242], "nice": false, "zero": false}, "axis": null},
  "y": {"datum": -0.0576, "type": "quantitative", "scale": {"domain": [-1.376, 4.5936], "nice": false, "zero": false}, "axis": null}}}
]
}
